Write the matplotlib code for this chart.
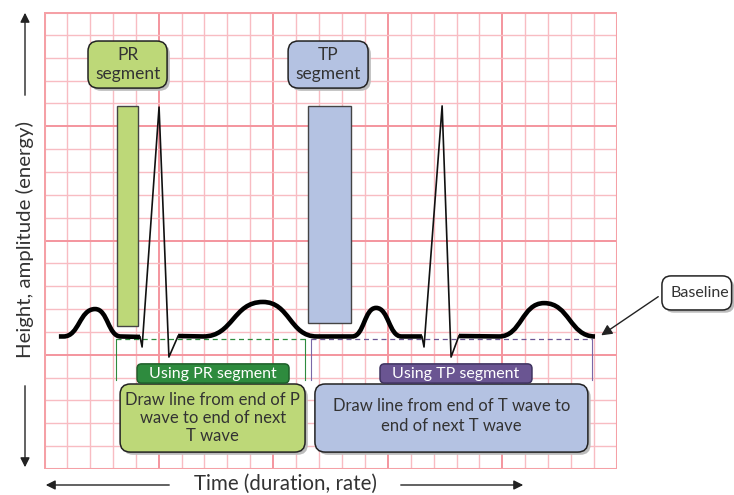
import matplotlib
matplotlib.use("Agg")
import matplotlib.pyplot as plt
from matplotlib.path import Path
from matplotlib.patches import PathPatch, FancyBboxPatch, Rectangle, FancyArrowPatch

plt.rcParams['font.family'] = ['Lato', 'DejaVu Sans']

# grid size in small squares
n_cols = 25
n_rows = 20

# baseline level and the waves (start, peak x, peak y, end) in grid squares
baseline = 5.8
p_waves = [(0.85, 2.23, 7.0, 3.35), (13.45, 14.49, 7.05, 15.6)]
t_waves = [(6.95, 9.55, 7.31, 11.9), (19.85, 21.82, 7.26, 24.04)]
trace_start = 0.65
# QRS complexes: (x, y) corners
qrs = [
    [(4.19, 5.78), (4.28, 5.34), (5.02, 15.84), (5.45, 4.9), (5.85, 5.82)],
    [(16.49, 5.8), (16.58, 5.34), (17.37, 15.89), (17.76, 4.9), (18.1, 5.82)],
]

# highlighted segments (x0, x1, y0, y1)
pr_bar = (3.19, 4.10, 6.26, 15.89)
tp_bar = (11.52, 13.39, 6.39, 15.89)
measure_y = 5.69
pr_line = (3.14, 11.39)
tp_line = (11.65, 23.91)

green = "#bdd878"
green_dark = "#2e8b3e"
blue = "#b4c2e2"
purple = "#6a5592"
text_col = "#333333"

fig = plt.figure(figsize=(7.34, 4.95), dpi=100)
ax = fig.add_axes([44 / 734, 26 / 495, 573 / 734, 457 / 495])
ax.set_xlim(0, n_cols)
ax.set_ylim(0, n_rows)
ax.axis("off")

# ECG paper
for i in range(n_cols + 1):
    major = i % 5 == 0
    ax.axvline(i, color="#f4959e" if major else "#f8bcc2", lw=1.4 if major else 1.0, zorder=0)
for j in range(n_rows + 1):
    major = j % 5 == 0
    ax.axhline(j, color="#f4959e" if major else "#f8bcc2", lw=1.4 if major else 1.0, zorder=0)
ax.add_patch(Rectangle((0, 0), n_cols, n_rows, fill=False, ec="#f5a0a6", lw=2.2, zorder=1))


def hump(verts, codes, x0, xp, yp, x1):
    a = 0.5 * (xp - x0)
    b = 0.5 * (x1 - xp)
    verts += [(x0 + a, baseline), (xp - a, yp), (xp, yp),
              (xp + b, yp), (x1 - b, baseline), (x1, baseline)]
    codes += [Path.CURVE4] * 6


def thick_path(points):
    verts, codes = [], []
    for kind, item in points:
        if kind == "move":
            verts.append(item)
            codes.append(Path.MOVETO)
        elif kind == "line":
            verts.append(item)
            codes.append(Path.LINETO)
        else:
            hump(verts, codes, *item)
    return Path(verts, codes)


segments = [
    [("move", (trace_start, baseline)), ("line", (p_waves[0][0], baseline)),
     ("hump", p_waves[0]), ("line", qrs[0][0])],
    [("move", qrs[0][-1]), ("line", (t_waves[0][0], baseline)), ("hump", t_waves[0]),
     ("line", (p_waves[1][0], baseline)), ("hump", p_waves[1]), ("line", qrs[1][0])],
    [("move", qrs[1][-1]), ("line", (t_waves[1][0], baseline)), ("hump", t_waves[1])],
]

# highlight bars (behind the trace)
for (x0, x1, y0, y1), col in [(pr_bar, green), (tp_bar, blue)]:
    ax.add_patch(Rectangle((x0, y0), x1 - x0, y1 - y0, fc=col, ec="#444444", lw=1.0, zorder=2))

for seg in segments:
    ax.add_patch(PathPatch(thick_path(seg), fill=False, lw=3.3, ec="black",
                           capstyle="butt", joinstyle="round", zorder=4))
for q in qrs:
    ax.plot([p[0] for p in q], [p[1] for p in q], color="#111111", lw=1.2, zorder=4)

# measurement lines
ax.plot(pr_line, [measure_y, measure_y], ls=(0, (4, 3)), color="#2e8b3e", lw=0.9, zorder=3)
ax.plot(tp_line, [measure_y, measure_y], ls=(0, (4, 3)), color="#6a5592", lw=0.9, zorder=3)
for x in pr_line:
    ax.plot([x, x], [measure_y, 3.9], color="#2e8b3e", lw=0.8, zorder=3)
for x in tp_line:
    ax.plot([x, x], [measure_y, 3.9], color="#7a68a8", lw=0.8, zorder=3)


def rbox(x0, y0, x1, y1, fc, r=0.45, shadow=True, ec="#222222", clip=True):
    if shadow:
        ax.add_patch(FancyBboxPatch((x0 + 0.12, y0 - 0.12), x1 - x0, y1 - y0,
                                    boxstyle=f"round,pad=0,rounding_size={r}",
                                    fc="#bbbbbb", ec="none", zorder=5, clip_on=clip))
    ax.add_patch(FancyBboxPatch((x0, y0), x1 - x0, y1 - y0,
                                boxstyle=f"round,pad=0,rounding_size={r}",
                                fc=fc, ec=ec, lw=1.1, zorder=6, clip_on=clip))


# top labels
rbox(1.92, 16.67, 5.37, 18.73, green)
ax.text(3.645, 17.7, "PR\nsegment", ha="center", va="center", fontsize=12.5,
        color=text_col, linespacing=1.2, zorder=7)
rbox(10.65, 16.67, 14.14, 18.73, blue)
ax.text(12.395, 17.7, "TP\nsegment", ha="center", va="center", fontsize=12.5,
        color=text_col, linespacing=1.2, zorder=7)

# method boxes
rbox(3.32, 0.74, 11.39, 3.72, green)
ax.text(7.355, 2.23, "Draw line from end of P\nwave to end of next\nT wave", ha="center",
        va="center", fontsize=12, color=text_col, linespacing=1.15, zorder=7)
rbox(11.82, 0.74, 23.73, 3.72, blue)
ax.text(17.775, 2.3, "Draw line from end of T wave to\nend of next T wave", ha="center",
        va="center", fontsize=12, color=text_col, linespacing=1.3, zorder=7)

rbox(4.06, 3.76, 10.69, 4.6, green_dark, r=0.2, shadow=False, ec="#1f5f2a")
ax.text(7.375, 4.17, "Using PR segment", ha="center", va="center", fontsize=11.5,
        color="white", zorder=7)
rbox(14.66, 3.76, 21.29, 4.6, purple, r=0.2, shadow=False, ec="#3f3360")
ax.text(17.975, 4.17, "Using TP segment", ha="center", va="center", fontsize=11.5,
        color="white", zorder=7)

# baseline callout
rbox(26.96, 6.96, 30.0, 8.45, "white", r=0.4, clip=False)
ax.text(27.35, 7.7, "Baseline", ha="left", va="center", fontsize=11.5, color=text_col,
        zorder=7, clip_on=False)
ax.annotate("", xy=(24.21, 5.78), xytext=(26.9, 7.61),
            arrowprops=dict(arrowstyle="-|>", color="#222222", lw=1.0, mutation_scale=16),
            annotation_clip=False, zorder=7)

# axis labels with arrows
fig.text(25 / 734, 1 - 240 / 495, "Height, amplitude (energy)", rotation=90, ha="center",
         va="center", fontsize=14.7, color=text_col)
fig.text(285 / 734, 1 - 484 / 495, "Time (duration, rate)", ha="center", va="center",
         fontsize=14.8, color=text_col)


def fig_arrow(p0, p1):
    fig.add_artist(FancyArrowPatch((p0[0] / 734, 1 - p0[1] / 495), (p1[0] / 734, 1 - p1[1] / 495),
                                   transform=fig.transFigure, arrowstyle="-|>",
                                   color="#222222", lw=1.0, mutation_scale=14))


fig_arrow((25, 98), (25, 10))
fig_arrow((25, 383), (25, 470))
fig_arrow((172, 485), (43, 485))
fig_arrow((398, 485), (526, 485))

fig.savefig("out.png", dpi=100)
